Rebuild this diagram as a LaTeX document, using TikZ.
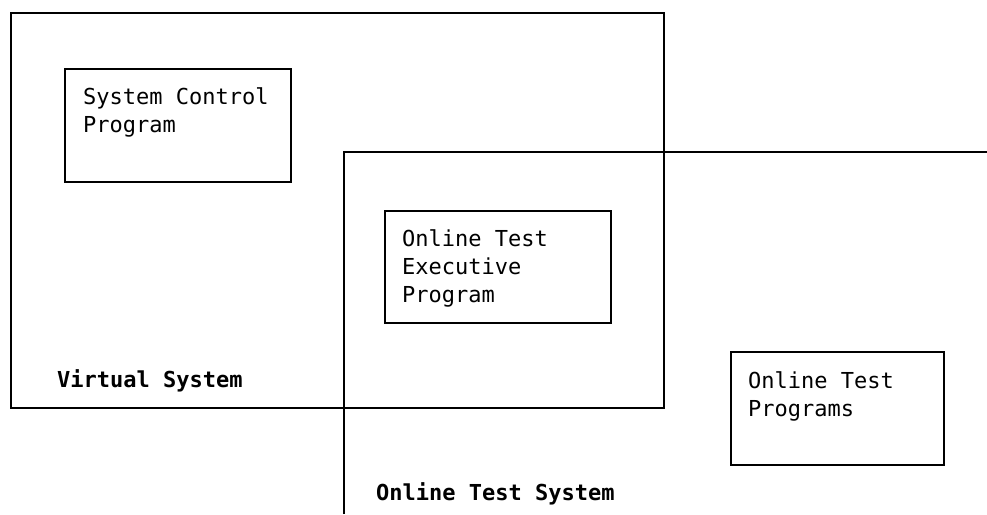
\documentclass[tikz,border=0pt]{standalone}
\usepackage{fontspec}
\setmonofont{DejaVu Sans Mono}
\usetikzlibrary{positioning}
\tikzset{
  boxline/.style={line width=1.6pt},
  sysframe/.style={draw, boxline, rectangle, inner sep=0pt, anchor=north west},
  boxtext/.style={font=\ttfamily\fontsize{22}{28}\selectfont, align=left, inner sep=0pt, anchor=base west},
  systext/.style={font=\ttfamily\bfseries\fontsize{22}{28}\selectfont, inner sep=0pt, anchor=base west}
}
\begin{document}
\begin{tikzpicture}[x=1pt, y=-1pt]
\useasboundingbox (0,0) rectangle (987,514);

% outer systems
\node[sysframe, minimum width=653pt, minimum height=395pt] (virt) at (10,12) {};
\coordinate (ots-top) at (344,152);
\coordinate (ots-bottom) at (344,514);
\coordinate (ots-right) at (987,152);
\draw[boxline] (ots-bottom) -- (ots-top) -- (ots-right);

% programs
\node[sysframe, minimum width=226pt, minimum height=113pt] (scp) at (64,68) {};
\node[sysframe, minimum width=226pt, minimum height=112pt] (otep) at (384,210) {};
\node[sysframe, minimum width=213pt, minimum height=113pt] (otp) at (730,351) {};

% labels (base = last line)
\node[boxtext] (scp-text) at (83,132) {System Control\\Program};
\node[boxtext] (otep-text) at (402,302) {Online Test\\Executive\\Program};
\node[boxtext] (otp-text) at (748,416) {Online Test\\Programs};
\node[systext] (virt-text) at (57,387) {Virtual System};
\node[systext] (ots-text) at (376,500) {Online Test System};

\end{tikzpicture}
\end{document}
